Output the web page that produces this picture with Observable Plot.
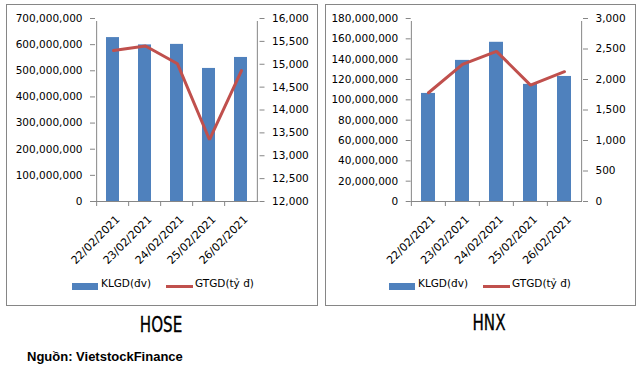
<!DOCTYPE html>
<html>
<head>
<meta charset="utf-8">
<script src="https://cdn.jsdelivr.net/npm/d3@7"></script>
<script src="https://cdn.jsdelivr.net/npm/@observablehq/plot@0.6"></script>
<style>
  html, body { margin: 0; padding: 0; background: #fff; }
  #root { position: relative; width: 639px; height: 373px; overflow: hidden; font-family: "DejaVu Sans", sans-serif; }
  .panel { position: absolute; border: 1px solid #868686; box-sizing: border-box; }
  .layer { position: absolute; top: 0; }
  .legend { position: absolute; font-size: 10.5px; color: #000; white-space: nowrap; }
  .legend .sw { position: absolute; }
  .legend span.t { position: absolute; top: -6px; }
  .title { position: absolute; font-family: "DejaVu Sans Condensed", "Liberation Sans", sans-serif; font-size: 20.5px; color: #000; transform: translateX(-50%) scaleX(0.82); transform-origin: 50% 0; white-space: nowrap; -webkit-text-stroke: 0.3px #000; }
  .source { position: absolute; left: 27px; top: 349px; font-family: "Liberation Sans", sans-serif; font-weight: bold; font-size: 13px; color: #000; }
</style>
</head>
<body>
<div id="root"></div>
<script>
// ---- data ----
const dates = ["22/02/2021", "23/02/2021", "24/02/2021", "25/02/2021", "26/02/2021"];
const hoseVolume = [627000000, 599000000, 601000000, 509000000, 551000000];
const hoseValue = [15300, 15400, 15010, 13350, 14860];
const hnxVolume = [106300000, 138800000, 156600000, 115200000, 123000000];
const hnxValue = [1783, 2248, 2462, 1908, 2128];
const hoseVolumeTicks = [0, 100000000, 200000000, 300000000, 400000000, 500000000, 600000000, 700000000];
const hoseValueTicks = [12000, 12500, 13000, 13500, 14000, 14500, 15000, 15500, 16000];
const hnxVolumeTicks = [0, 20000000, 40000000, 60000000, 80000000, 100000000, 120000000, 140000000, 160000000, 180000000];
const hnxValueTicks = [0, 500, 1000, 1500, 2000, 2500, 3000];
const seriesNames = ["KLGD(đv)", "GTGD(tỷ  đ)"];
const exchanges = ["HOSE", "HNX"];
const sourceText = "Nguồn: VietstockFinance";

const BAR = "#4F81BD", LINE = "#C0504D", AXIS = "#868686";
const fmt = d3.format(",");
const root = document.getElementById("root");

function chart({left, width, ml, mr, volume, value, volTicks, valTicks}) {
  const H = 270, mt = 18, mb = 69;
  const step = (width - ml - mr) / dates.length;
  const rows = dates.map((d, i) => ({date: d, vol: volume[i], val: value[i]}));
  const volDomain = [volTicks[0], volTicks[volTicks.length - 1]];
  const valDomain = [valTicks[0], valTicks[valTicks.length - 1]];
  const xOpt = {domain: dates, paddingInner: 0.58, paddingOuter: 0.29, axis: null, label: null};
  const style = {fontFamily: "DejaVu Sans", fontSize: "10.5px", background: "transparent", overflow: "visible"};

  const bars = Plot.plot({
    width, height: H, marginLeft: ml, marginRight: mr, marginTop: mt, marginBottom: mb,
    style,
    x: xOpt,
    y: {domain: volDomain, axis: null, label: null},
    marks: [
      Plot.barY(rows, {x: "date", y: "vol", fill: BAR}),
      Plot.ruleY([volDomain[0]], {stroke: AXIS}),
      Plot.ruleX([dates[0]], {y1: volDomain[0], y2: volDomain[1], dx: -step / 2, stroke: AXIS, insetBottom: -3}),
      Plot.ruleX([dates[dates.length - 1]], {y1: volDomain[0], y2: volDomain[1], dx: step / 2, stroke: AXIS, insetBottom: -3}),
      Plot.axisX({tickSize: 5, text: null, dx: -step / 2, stroke: AXIS, label: null}),
      Plot.axisX({tickSize: 0, tickPadding: 16, tickRotate: -45, fill: "#000", dx: 5, fontSize: 11, label: null}),
      Plot.axisY(volTicks, {anchor: "left", tickSize: 5, tickPadding: 8, tickFormat: fmt, stroke: AXIS, fill: "#000", label: null})
    ]
  });
  const line = Plot.plot({
    width, height: H, marginLeft: ml, marginRight: mr, marginTop: mt, marginBottom: mb,
    style,
    x: xOpt,
    y: {domain: valDomain, axis: null, label: null},
    marks: [
      Plot.lineY(rows, {x: "date", y: "val", stroke: LINE, strokeWidth: 3, strokeLinejoin: "miter"}),
      Plot.axisY(valTicks, {anchor: "right", tickSize: 5, tickPadding: 8, tickFormat: fmt, stroke: AXIS, fill: "#000", label: null})
    ]
  });
  for (const svg of [bars, line]) {
    svg.classList.add("layer");
    svg.style.left = left + "px";
    root.appendChild(svg);
  }
}

function panel(x, y, w, h) {
  const p = document.createElement("div");
  p.className = "panel";
  Object.assign(p.style, {left: x + "px", top: y + "px", width: w + "px", height: h + "px"});
  root.appendChild(p);
}

function legend(x, y) {
  const L = document.createElement("div");
  L.className = "legend";
  L.style.left = x + "px"; L.style.top = y + "px";
  L.innerHTML =
    `<div class="sw" style="left:0;top:0;width:26px;height:7px;background:${BAR}"></div>` +
    `<span class="t" style="left:29px">${seriesNames[0]}</span>` +
    `<div class="sw" style="left:94px;top:2px;width:27px;height:3px;background:${LINE}"></div>` +
    `<span class="t" style="left:123px">${seriesNames[1]}</span>`;
  root.appendChild(L);
}

function title(text, cx, top) {
  const t = document.createElement("div");
  t.className = "title";
  t.textContent = text;
  t.style.left = cx + "px"; t.style.top = top + "px";
  root.appendChild(t);
}

panel(6, 4, 312, 302);
panel(325, 4, 311, 302);

chart({left: 0, width: 320, ml: 95, mr: 61.5, volume: hoseVolume, value: hoseValue, volTicks: hoseVolumeTicks, valTicks: hoseValueTicks});
chart({left: 320, width: 319, ml: 90.7, mr: 57, volume: hnxVolume, value: hnxValue, volTicks: hnxVolumeTicks, valTicks: hnxValueTicks});

legend(72, 283);
legend(389, 283);

title(exchanges[0], 161, 313);
title(exchanges[1], 489, 311);

const s = document.createElement("div");
s.className = "source";
s.textContent = sourceText;
root.appendChild(s);
</script>
</body>
</html>
